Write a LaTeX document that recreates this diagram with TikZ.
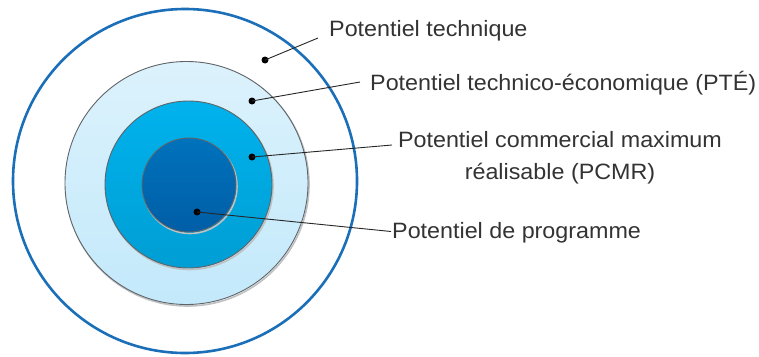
\documentclass[tikz,border=0pt]{standalone}
\usepackage{fontspec}
\setmainfont{Liberation Sans}[FakeStretch=1.05]
\usetikzlibrary{shadings}
\definecolor{outerblue}{HTML}{1A6FB8}
\definecolor{ringgray}{HTML}{5F6468}
\definecolor{txt}{HTML}{333333}
\definecolor{lbtop}{HTML}{DCF2FC}
\definecolor{lbbot}{HTML}{C3E9FB}
\definecolor{mbtop}{HTML}{00B2EC}
\definecolor{mbbot}{HTML}{009ED4}
\definecolor{dbtop}{HTML}{0072BC}
\definecolor{dbbot}{HTML}{005EA6}
\tikzset{
  ring/.style={draw=ringgray, line width=0.9pt},
  dotpt/.style={circle, fill=black, inner sep=0pt, minimum size=7pt},
  lbl/.style={text=txt, font=\fontsize{22.2}{30}\selectfont, inner sep=0pt},
  conn/.style={draw=black!85, line width=0.9pt},
}
\begin{document}
\begin{tikzpicture}[x=1pt,y=-1pt]
\useasboundingbox (0,0) rectangle (759,356);
% circles
\draw[outerblue, line width=2.6pt, fill=white] (185,181) circle (172);
\draw[ringgray!40, line width=1.6pt] (187.5,184.5) circle (121.5);
\shade[ring, top color=lbtop, bottom color=lbbot] (186.5,183) circle (121.5);
\draw[ringgray!40, line width=1.6pt] (189.5,186) circle (83.5);
\shade[ring, top color=mbtop, bottom color=mbbot] (188.5,184.5) circle (83.5);
\draw[ringgray!40, line width=1.6pt] (190,186.5) circle (47);
\shade[ring, top color=dbtop, bottom color=dbbot] (189,185) circle (47);
% dots
\node[dotpt] (d1) at (265,60) {};
\node[dotpt] (d2) at (252,101) {};
\node[dotpt] (d3) at (252,157) {};
\node[dotpt] (d4) at (197,212) {};
% labels
\node[lbl, anchor=base west] (t1) at (329,36) {Potentiel technique};
\node[lbl, anchor=base west] (t2) at (370,90) {Potentiel technico-économique (PTÉ)};
\node[lbl, anchor=base] (t3) at (560,147) {Potentiel commercial maximum};
\node[lbl, anchor=base] (t3b) at (560,179) {réalisable (PCMR)};
\node[lbl, anchor=base west] (t4) at (392,238) {Potentiel de programme};
% connector ends
\coordinate (e1) at (318,38);
\coordinate (e2) at (360,82);
\coordinate (e3) at (392,145);
\coordinate (e4) at (391,231.5);
\draw[conn] (d1.center) -- (e1);
\draw[conn] (d2.center) -- (e2);
\draw[conn] (d3.center) -- (e3);
\draw[conn] (d4.center) -- (e4);
\end{tikzpicture}
\end{document}
